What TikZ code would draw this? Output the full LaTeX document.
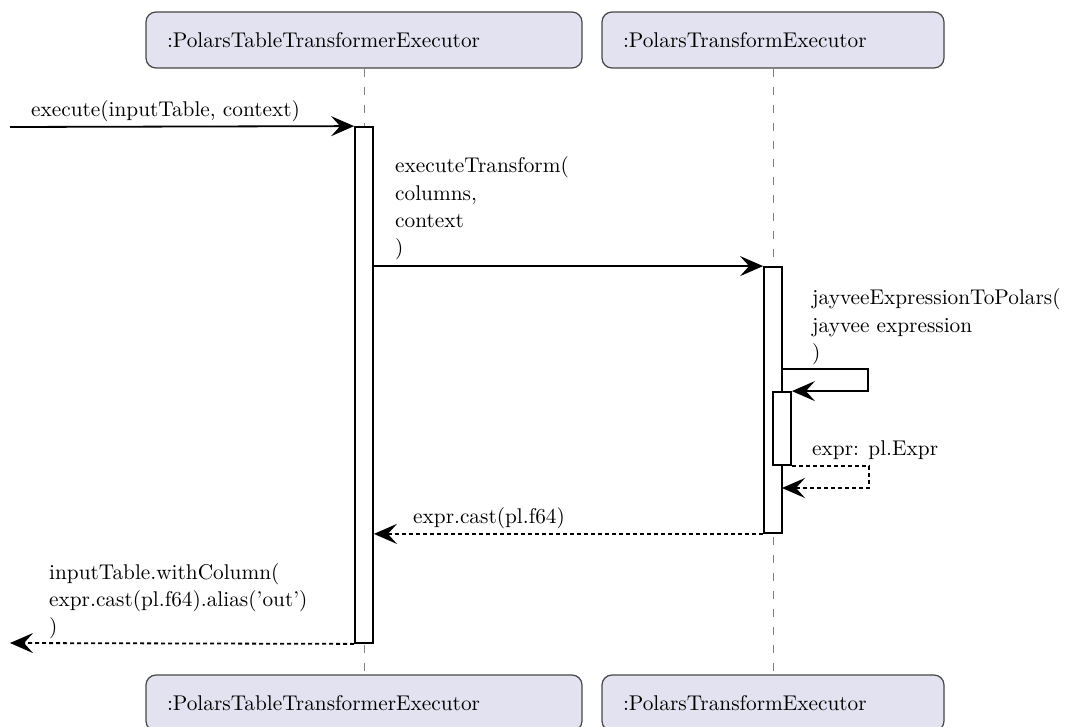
\documentclass[tikz,border=0pt]{standalone}
\usepackage{graphicx}
\usetikzlibrary{arrows.meta}
\definecolor{lifebox}{RGB}{226,226,240}
\definecolor{lifeedge}{RGB}{70,70,70}
% text is set at 10pt and enlarged, so the design size stays that of 10pt type
\newcommand{\umltxt}[1]{\scalebox{2.13}{#1}}
\begin{document}
\begin{tikzpicture}[x=1pt,y=-1pt,
  every node/.style={font=\fontsize{10}{12.68}\selectfont},
  objbox/.style={draw=lifeedge, line width=1.2pt, fill=lifebox, rounded corners=10pt,
    minimum height=56pt, inner xsep=21pt, inner ysep=0pt, align=left},
  lifeline/.style={draw=gray, line width=1pt, dash pattern=on 8pt off 10pt},
  actbar/.style={draw=black, fill=white, line width=1.8pt, minimum width=18pt, inner sep=0pt},
  call/.style={line width=1.8pt, -{Stealth[length=23pt,width=20pt,inset=9pt]}},
  reply/.style={call, dash pattern=on 4pt off 3pt},
  lbl/.style={anchor=base west, inner sep=0pt}]
\useasboundingbox (0,0) rectangle (1068,727);

% object heads and feet
\node[objbox, text width=394pt] (top1) at (364,40) {\umltxt{:PolarsTableTransformerExecutor}};
\node[objbox, text width=300pt] (top2) at (773,40) {\umltxt{:PolarsTransformExecutor}};
\node[objbox, text width=394pt] (bot1) at (364,703) {\umltxt{:PolarsTableTransformerExecutor}};
\node[objbox, text width=300pt] (bot2) at (773,703) {\umltxt{:PolarsTransformExecutor}};

% lifelines
\draw[lifeline] (top1.south) -- (bot1.north);
\draw[lifeline] (top2.south) -- (bot2.north);

% activations
\node[actbar, minimum height=516pt] (act1) at (364,385) {};
\node[actbar, minimum height=266pt] (act2) at (773,400) {};
\node[actbar, minimum height=73pt] (act3) at (782,428.5) {};

% incoming call
\coordinate (caller) at (10,127);
\draw[call] (caller) -- (act1.north west);
\node[lbl] (m1) at (31,117) {\umltxt{execute(inputTable, context)}};

% executeTransform
\draw[call] (act1.east |- act2.north) -- (act2.north west);
\node[lbl] (m2) at (395,173) {\umltxt{\parbox[t]{180pt}{executeTransform(\\columns,\\context\\)}}};

% self call
\coordinate (selfout) at (782,369);
\draw[call] (selfout) -- ++(86,0) |- (act3.north east);
\node[lbl] (m3) at (812,305) {\umltxt{\parbox[t]{180pt}{jayveeExpressionToPolars(\\jayvee expression\\)}}};

% self return
\coordinate (selfback) at (782,488);
\draw[reply] (act3.south east) -- ++(77,0) |- (selfback);
\node[lbl] (m4) at (812,455) {\umltxt{expr: pl.Expr}};

% return to table transformer
\draw[reply] (act2.south west) -- (act1.east |- act2.south);
\node[lbl] (m5) at (413,523) {\umltxt{expr.cast(pl.f64)}};

% final return
\coordinate (caller2) at (10,643);
\draw[reply] (act1.south west) -- (caller2);
\node[lbl] (m6) at (49,579) {\umltxt{\parbox[t]{180pt}{inputTable.withColumn(\\expr.cast(pl.f64).alias('out')\\)}}};
\end{tikzpicture}
\end{document}
